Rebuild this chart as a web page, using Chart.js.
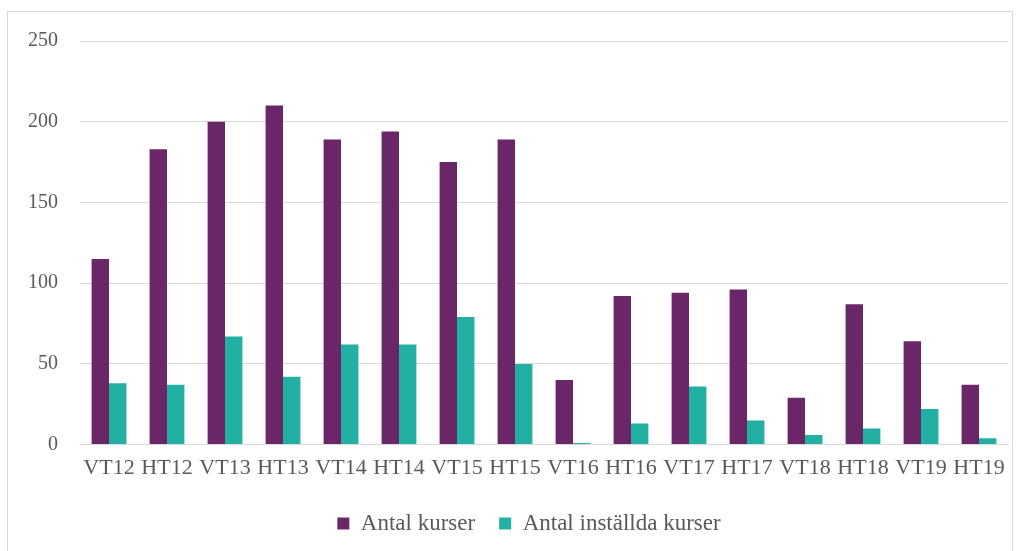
<!DOCTYPE html>
<html lang="sv">
<head>
  <meta charset="UTF-8">
  <title>Antal kurser</title>
  <script src="https://cdn.jsdelivr.net/npm/chart.js"></script>
  <style>
    body {
      margin: 0;
      background: #fff;
    }
    #ram {
      position: absolute;
      left: 7px;
      top: 11px;
      width: 1004px;
      height: 560px;
      border: 1px solid #d9d9d9;
    }
    #wrap {
      position: absolute;
      left: 0;
      top: 0;
      width: 1022px;
      height: 551px;
    }
  </style>
</head>
<body>
  <div id="ram"></div>
  <div id="wrap"><canvas id="grafico"></canvas></div>

  <script>
    const terminer = ["VT12", "HT12", "VT13", "HT13", "VT14", "HT14", "VT15", "HT15",
                      "VT16", "HT16", "VT17", "HT17", "VT18", "HT18", "VT19", "HT19"];
    const antalKurser = [115, 183, 200, 210, 189, 194, 175, 189, 40, 92, 94, 96, 29, 87, 64, 37];
    const installda = [38, 37, 67, 42, 62, 62, 79, 50, 1, 13, 36, 15, 6, 10, 22, 4];
    const yTicks = [0, 50, 100, 150, 200, 250];

    const font = "'Liberation Serif', 'DejaVu Serif', serif";
    const textColor = "#595959";

    // legenden ligger lite till höger om mitten i originalet
    const flyttaLegend = {
      id: "flyttaLegend",
      afterLayout(chart) {
        chart.legend.left += 25;
        chart.legend.right += 25;
      }
    };

    new Chart(document.getElementById("grafico"), {
      type: "bar",
      data: {
        labels: terminer,
        datasets: [
          {
            label: "Antal kurser",
            data: antalKurser,
            backgroundColor: "#6b2668",
            categoryPercentage: 0.6,
            barPercentage: 1.0
          },
          {
            label: "Antal inställda kurser",
            data: installda,
            backgroundColor: "#22b0a4",
            categoryPercentage: 0.6,
            barPercentage: 1.0
          }
        ]
      },
      plugins: [flyttaLegend],
      options: {
        responsive: true,
        maintainAspectRatio: false,
        animation: false,
        layout: { padding: { left: 0, right: 14, top: 41, bottom: 6 } },
        plugins: {
          tooltip: { enabled: false },
          legend: {
            position: "bottom",
            labels: {
              boxWidth: 12,
              boxHeight: 12,
              padding: 24,
              color: textColor,
              font: { family: font, size: 23 }
            }
          }
        },
        scales: {
          x: {
            afterFit: s => { s.height += 5; },
            grid: { display: false },
            border: { color: "#d9d9d9", width: 1 },
            ticks: {
              color: textColor,
              font: { family: font, size: 22 },
              maxRotation: 0,
              autoSkip: false,
              padding: 2
            }
          },
          y: {
            min: 0,
            max: 250,
            afterFit: s => { s.width = 80; },
            afterBuildTicks: s => { s.ticks = yTicks.map(v => ({ value: v })); },
            grid: { color: "#d9d9d9", lineWidth: 1, drawTicks: false },
            border: { display: false },
            ticks: {
              color: textColor,
              font: { family: font, size: 20 },
              padding: 22
            }
          }
        }
      }
    });
  </script>
</body>
</html>
